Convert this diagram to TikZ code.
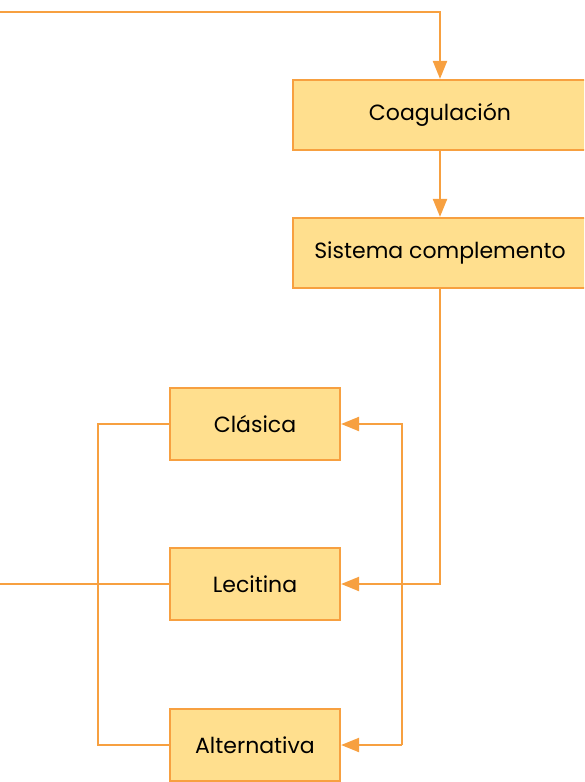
\documentclass[tikz,border=0pt]{standalone}
\usepackage{fontspec}
\setmainfont{Poppins}
\usetikzlibrary{arrows.meta, positioning}
\definecolor{linecol}{HTML}{F7A040}
\definecolor{boxcol}{HTML}{FFDF8E}

\begin{document}
\begin{tikzpicture}[x=1pt, y=-1pt,
  box/.style={rectangle, draw=linecol, fill=boxcol, line width=2.2pt, inner sep=0pt, font=\fontsize{22}{26}\selectfont},
  bigbox/.style={box, minimum width=294pt, minimum height=70pt},
  smallbox/.style={box, minimum width=170pt, minimum height=72pt},
  line/.style={draw=linecol, line width=2.2pt},
  arrow/.style={line, -{Triangle[length=18pt, width=14pt]}}
]
\clip (0,0) rectangle (584,782);

\node[bigbox] (coag) at (440,115) {Coagulación};
\node[bigbox] (comp) at (440,253) {Sistema complemento};
\node[smallbox] (clas) at (255,424) {Clásica};
\node[smallbox] (leci) at (255,584) {Lecitina};
\node[smallbox] (alt) at (255,745) {Alternativa};

\coordinate (top) at (0,12);
\coordinate (left) at (0,584);
\coordinate (rb) at (402,745);
\coordinate (lb) at (98,745);

\draw[arrow] (top) -| (coag);
\draw[arrow] (coag) -- (comp);
\draw[arrow] (comp) |- (leci);
\draw[arrow] (rb) |- (clas);
\draw[arrow] (rb) -- (alt);
\draw[line] (clas) -| (lb) -- (alt);
\draw[line] (left) -- (leci);

\end{tikzpicture}
\end{document}
